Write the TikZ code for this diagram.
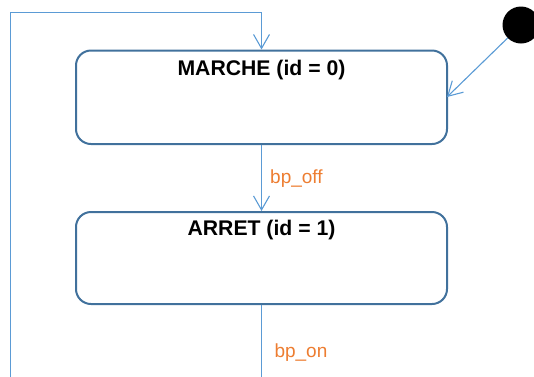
\documentclass[tikz,border=0pt]{standalone}
\usepackage{fontspec}
\setmainfont{Liberation Sans}
\usetikzlibrary{arrows.meta}
\definecolor{boxblue}{HTML}{41719C}
\definecolor{linkblue}{HTML}{5B9BD5}
\definecolor{lblorange}{HTML}{ED7D31}
\tikzset{
  statebox/.style={draw=boxblue, line width=2pt, rounded corners=15pt, rectangle, minimum width=371pt, inner sep=0pt},
  statetitle/.style={font=\fontsize{21.2}{25}\selectfont\bfseries, inner sep=0pt, anchor=base},
  trans/.style={draw=linkblue, line width=1.1pt, -{Straight Barb[length=14pt,width=16pt,line width=1.1pt]}},
  translabel/.style={text=lblorange, font=\fontsize{19}{22}\selectfont, inner sep=0pt, anchor=base west},
}
\begin{document}
\begin{tikzpicture}[x=1pt,y=-1pt]
\clip (0,0) rectangle (534,376);
\useasboundingbox (0,0) rectangle (534,376);
\node[statebox, minimum height=93.5pt] (m) at (261.5,97.25) {};
\node[statebox, minimum height=92pt] (a) at (261.5,258) {};
\node[statetitle] (mt) at (261.5,75.9) {MARCHE (id = 0)};
\node[statetitle] (at) at (261.5,235.9) {ARRET (id = 1)};
\node[circle, fill=black, minimum size=37pt, inner sep=0pt] (init) at (521,25) {};
\coordinate (mr) at (447,97);
\draw[trans] (init) -- (mr);
\draw[trans] (m.south) -- (a.north);
\node[translabel] (l1) at (270,183) {bp\_off};
\coordinate (c1) at (261.5,400);
\coordinate (c2) at (10.7,400);
\coordinate (c3) at (10.7,12.7);
\coordinate (c4) at (261.5,12.7);
\draw[trans] (a.south) -- (c1) -- (c2) -- (c3) -- (c4) -- (m.north);
\node[translabel] (l2) at (274.3,357) {bp\_on};
\end{tikzpicture}
\end{document}
